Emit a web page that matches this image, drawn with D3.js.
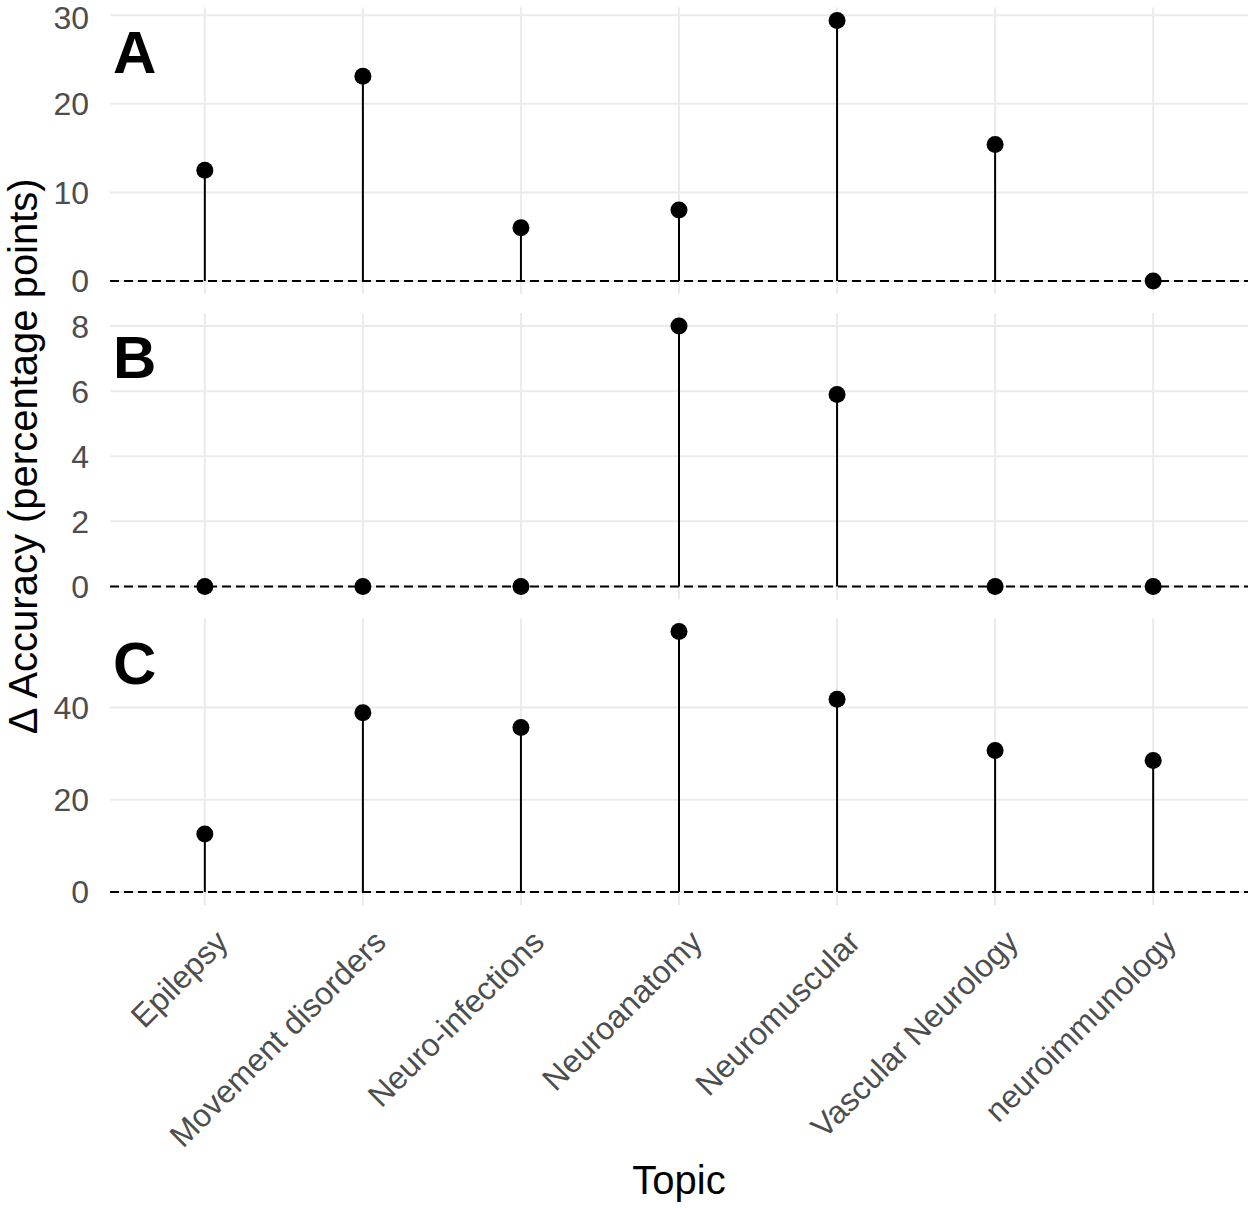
<!DOCTYPE html>
<html>
<head>
<meta charset="utf-8">
<script src="https://cdn.jsdelivr.net/npm/d3@7"></script>
<style>
  body { margin: 0; background: #ffffff; }
  text { font-family: "Liberation Sans", Arial, sans-serif; }
</style>
</head>
<body>
<div id="chart"></div>
<script>

// Topics on the x-axis
var topics = ["Epilepsy", "Movement disorders", "Neuro-infections", "Neuroanatomy",
              "Neuromuscular", "Vascular Neurology", "neuroimmunology"];

// Change in accuracy (percentage points) per panel
var panelA = [12.5, 23.1, 6.0, 8.0, 29.4, 15.4, 0];
var panelB = [0, 0, 0, 8.0, 5.9, 0, 0];
var panelC = [12.6, 38.9, 35.7, 56.5, 41.8, 30.7, 28.5];

// Tick labels per panel
var ticksA = [0, 10, 20, 30];
var ticksB = [0, 2, 4, 6, 8];
var ticksC = [0, 20, 40];

var panelLabels = ["A", "B", "C"];

// Define svg dimensions
var svgWidth = 1250;
var svgHeight = 1208;

// Panel geometry
var plotLeft = 110;
var plotRight = 1248;
var panelTops = [7.5, 313, 618.5];
var panelHeight = 286.5;

var svg = d3.select("#chart")
  .append("svg")
  .attr("width", svgWidth)
  .attr("height", svgHeight);

// Shared discrete x scale
var xScale = d3.scalePoint()
  .domain(topics)
  .range([plotLeft, plotRight])
  .padding(0.6);

var panels = [
  { values: panelA, ticks: ticksA, label: panelLabels[0] },
  { values: panelB, ticks: ticksB, label: panelLabels[1] },
  { values: panelC, ticks: ticksC, label: panelLabels[2] }
];

panels.forEach(function(p, i) {
  var top = panelTops[i];
  var bottom = top + panelHeight;

  // ggplot-like 5% expansion around [0, max]
  var maxVal = d3.max(p.values);
  var pad = maxVal * 0.05;
  var yScale = d3.scaleLinear()
    .domain([-pad, maxVal + pad])
    .range([bottom, top]);

  var g = svg.append("g").classed("panel", true);

  // Horizontal grid lines
  g.selectAll(".hgrid")
    .data(p.ticks)
    .enter()
    .append("line")
    .attr("x1", plotLeft)
    .attr("x2", plotRight)
    .attr("y1", d => yScale(d))
    .attr("y2", d => yScale(d))
    .attr("stroke", "#ebebeb")
    .attr("stroke-width", 2);

  // Vertical grid lines
  g.selectAll(".vgrid")
    .data(topics)
    .enter()
    .append("line")
    .attr("x1", d => xScale(d))
    .attr("x2", d => xScale(d))
    .attr("y1", top)
    .attr("y2", bottom)
    .attr("stroke", "#ebebeb")
    .attr("stroke-width", 2);

  // Y tick labels
  g.selectAll(".ytick")
    .data(p.ticks)
    .enter()
    .append("text")
    .attr("x", 89)
    .attr("y", d => Math.max(yScale(d), 17))
    .attr("dy", "0.36em")
    .attr("text-anchor", "end")
    .attr("font-size", 32)
    .attr("fill", "#4d4d4d")
    .text(d => d);

  // Dashed zero line
  g.append("line")
    .attr("x1", plotLeft)
    .attr("x2", plotRight)
    .attr("y1", yScale(0))
    .attr("y2", yScale(0))
    .attr("stroke", "#000000")
    .attr("stroke-width", 2)
    .attr("stroke-dasharray", "9,5");

  // Lollipop stems
  g.selectAll(".stem")
    .data(p.values)
    .enter()
    .append("line")
    .attr("x1", (d, j) => xScale(topics[j]))
    .attr("x2", (d, j) => xScale(topics[j]))
    .attr("y1", yScale(0))
    .attr("y2", d => yScale(d))
    .attr("stroke", "#000000")
    .attr("stroke-width", 2);

  // Lollipop heads
  g.selectAll(".dot")
    .data(p.values)
    .enter()
    .append("circle")
    .attr("cx", (d, j) => xScale(topics[j]))
    .attr("cy", d => yScale(d))
    .attr("r", 8.5)
    .attr("fill", "#000000");

  // Panel letter
  g.append("text")
    .attr("x", 113)
    .attr("y", top + 65)
    .attr("font-size", 60)
    .attr("font-weight", "bold")
    .attr("fill", "#000000")
    .text(p.label);
});

// X tick labels, rotated 45 degrees
svg.append("g")
  .selectAll("text")
  .data(topics)
  .enter()
  .append("text")
  .attr("transform", d => `translate(${xScale(d) + 25}, 944) rotate(-45)`)
  .attr("text-anchor", "end")
  .attr("font-size", 32)
  .attr("fill", "#4d4d4d")
  .text(d => d);

// X axis title
svg.append("text")
  .attr("x", (plotLeft + plotRight) / 2)
  .attr("y", 1194)
  .attr("text-anchor", "middle")
  .attr("font-size", 40)
  .attr("fill", "#000000")
  .text("Topic");

// Y axis title
var yMid = (panelTops[0] + panelTops[2] + panelHeight) / 2;
svg.append("text")
  .attr("transform", `translate(37, ${yMid}) rotate(-90)`)
  .attr("text-anchor", "middle")
  .attr("font-size", 40)
  .attr("fill", "#000000")
  .text("Δ Accuracy (percentage points)");

</script>
</body>
</html>
